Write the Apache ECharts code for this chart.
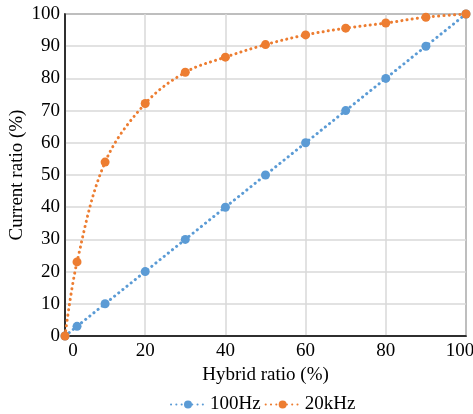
<!DOCTYPE html>
<html>
<head>
<meta charset="utf-8">
<script src="https://cdn.jsdelivr.net/npm/echarts@6/dist/echarts.min.js"></script>
<style>html,body{margin:0;padding:0;background:#fff}#c{width:473px;height:414px}</style>
</head>
<body>
<div id="c"></div>
<script>
const hybrid = [0, 3, 10, 20, 30, 40, 50, 60, 70, 80, 90, 100];
const hz100 = [0, 3, 10, 20, 30, 40, 50, 60, 70, 80, 90, 100];
const khz20 = [0, 23, 54, 72.2, 81.9, 86.6, 90.5, 93.5, 95.6, 97.2, 99, 100];
const xTicks = [0, 20, 40, 60, 80, 100];
const yTicks = [0, 10, 20, 30, 40, 50, 60, 70, 80, 90, 100];
const seriesNames = ['100Hz', '20kHz'];

const font = 'Liberation Serif';
const chart = echarts.init(document.getElementById('c'), null, {renderer: 'canvas'});
const pairs = arr => hybrid.map((x, i) => [x, arr[i]]);
const dotted = {width: 3, type: [0.1, 5.2], cap: 'round'};
const lbl = {fontFamily: font, fontSize: 19, color: '#000'};
chart.setOption({
  animation: false,
  textStyle: {fontFamily: font},
  grid: {left: 65, right: 7, top: 14, bottom: 78, show: true, borderColor: '#404040', borderWidth: 1.5,
         containLabel: false, outerBoundsMode: 'none'},
  xAxis: {
    type: 'value', min: xTicks[0], max: xTicks[xTicks.length - 1], interval: 20,
    name: 'Hybrid ratio (%)', nameLocation: 'middle', nameGap: 23,
    nameTextStyle: lbl,
    axisLine: {show: true, lineStyle: {color: '#000', width: 1.5}},
    axisTick: {show: false},
    axisLabel: Object.assign({}, lbl, {
      margin: 6,
      formatter: v => v === xTicks[0] ? '{a|' + v + '}' : (v === xTicks[xTicks.length - 1] ? '{b|' + v + '}' : String(v)),
      rich: {
        a: Object.assign({}, lbl, {padding: [0, 0, 0, 16]}),
        b: Object.assign({}, lbl, {padding: [0, 12, 0, 0]})
      }
    }),
    splitLine: {show: true, lineStyle: {color: '#d9d9d9', width: 1.5}}
  },
  yAxis: {
    type: 'value', min: yTicks[0], max: yTicks[yTicks.length - 1], interval: 10,
    name: 'Current ratio (%)', nameLocation: 'middle', nameGap: 38, nameMoveOverlap: false,
    nameTextStyle: lbl,
    axisLine: {show: true, lineStyle: {color: '#000', width: 1.5}},
    axisTick: {show: false},
    axisLabel: Object.assign({}, lbl, {margin: 5}),
    splitLine: {show: true, lineStyle: {color: '#d9d9d9', width: 1.5}}
  },
  legend: {
    top: 390, left: 165, itemWidth: 34, itemHeight: 10, itemGap: 4,
    textStyle: lbl,
    data: seriesNames
  },
  series: [
    {
      name: seriesNames[0], type: 'line', data: pairs(hz100), clip: false,
      symbol: 'circle', symbolSize: 9, z: 2,
      itemStyle: {color: '#5b9bd5'},
      lineStyle: Object.assign({color: '#5b9bd5'}, dotted)
    },
    {
      name: seriesNames[1], type: 'line', data: pairs(khz20), clip: false,
      smooth: 0.35, symbol: 'circle', symbolSize: 9, z: 3,
      itemStyle: {color: '#ed7d31'},
      lineStyle: Object.assign({color: '#ed7d31'}, dotted)
    }
  ]
});
</script>
</body>
</html>
